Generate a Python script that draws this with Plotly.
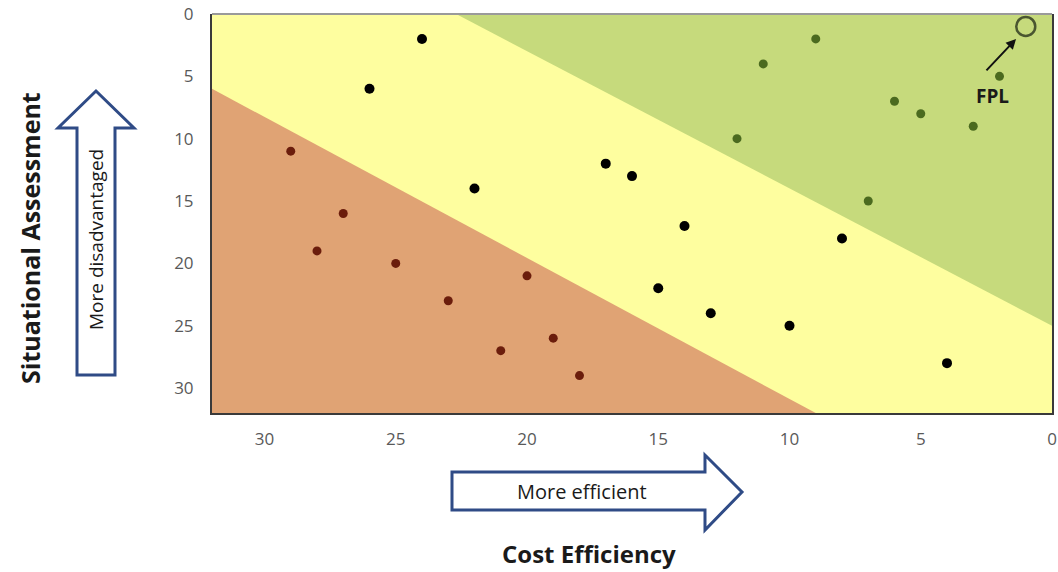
import plotly.graph_objects as go

# ---- data ----
black_x = [24, 26, 22, 17, 16, 14, 15, 13, 10, 8, 4]
black_y = [2, 6, 14, 12, 13, 17, 22, 24, 25, 18, 28]
brown_x = [29, 27, 28, 25, 20, 23, 19, 21, 18]
brown_y = [11, 16, 19, 20, 21, 23, 26, 27, 29]
green_x = [9, 11, 12, 6, 5, 3, 2, 7]
green_y = [2, 4, 10, 7, 8, 9, 5, 15]
fpl_x = [1]
fpl_y = [1]

# zone boundaries (data coordinates)
green_zone_x = [22.7, 0, 0]
green_zone_y = [0, 0, 25]
red_zone_x = [32, 32, 9]
red_zone_y = [6, 32, 32]

x_ticks = [0, 5, 10, 15, 20, 25, 30]
y_ticks = [0, 5, 10, 15, 20, 25, 30]

# ---- styling ----
W, H = 1058, 572
ML, MR, MT, MB = 212, 6, 14, 159
PW, PH = W - ML - MR, H - MT - MB
FONT = "'Open Sans', sans-serif"
YELLOW = "#fefe9f"
GREEN = "#c6da7c"
RED = "#e0a374"
BLUE = "#2f4b86"


def px(x):
    return (x - ML) / PW


def py(y):
    return (H - MB - y) / PH


def poly(points):
    d = "M " + " L ".join(f"{px(a):.5f},{py(b):.5f}" for a, b in points) + " Z"
    return d


fig = go.Figure()

fig.add_trace(go.Scatter(x=red_zone_x, y=red_zone_y, fill="toself", fillcolor=RED,
                         mode="lines", line=dict(width=0), hoverinfo="skip", showlegend=False))
fig.add_trace(go.Scatter(x=green_zone_x, y=green_zone_y, fill="toself", fillcolor=GREEN,
                         mode="lines", line=dict(width=0), hoverinfo="skip", showlegend=False))

fig.add_trace(go.Scatter(x=brown_x, y=brown_y, mode="markers",
                         marker=dict(size=9, color="#6b1d0c"), showlegend=False))
fig.add_trace(go.Scatter(x=green_x, y=green_y, mode="markers",
                         marker=dict(size=9, color="#4b6a1f"), showlegend=False))
fig.add_trace(go.Scatter(x=black_x, y=black_y, mode="markers",
                         marker=dict(size=10, color="#000000"), showlegend=False))
fig.add_trace(go.Scatter(x=fpl_x, y=fpl_y, mode="markers",
                         marker=dict(size=19, color="rgba(0,0,0,0)",
                                     line=dict(width=2.5, color="#4a5630")),
                         showlegend=False))

shapes = [
    # top border (lighter)
    dict(type="line", xref="paper", yref="paper", x0=0, x1=1, y0=1, y1=1,
         line=dict(color="#9a9a9a", width=2)),
    # up arrow
    dict(type="path", xref="paper", yref="paper",
         path=poly([(96, 91), (134, 128), (115, 128), (115, 375), (77, 375), (77, 128), (58, 128)]),
         fillcolor="white", line=dict(color=BLUE, width=3)),
    # right arrow
    dict(type="path", xref="paper", yref="paper",
         path=poly([(452, 472), (705, 472), (705, 455), (742, 492), (705, 530), (705, 510), (452, 510)]),
         fillcolor="white", line=dict(color=BLUE, width=3)),
]

C = dict(xanchor="center", yanchor="middle", showarrow=False)
annotations = [
    dict(text="More disadvantaged", xref="paper", yref="paper", x=px(96), y=py(239),
         textangle=-90, font=dict(family=FONT, size=19, color="#1a1a1a"), **C),
    dict(text="More efficient", xref="paper", yref="paper", x=px(582), y=py(491),
         font=dict(family=FONT, size=20, color="#1a1a1a"), **C),
    dict(text="<b>Cost Efficiency</b>", xref="paper", yref="paper", x=px(589), y=py(553),
         font=dict(family=FONT, size=24, color="#1a1a1a"), **C),
    dict(text="<b>Situational Assessment</b>", xref="paper", yref="paper", x=px(30), y=py(238),
         textangle=-90, font=dict(family=FONT, size=25, color="#1a1a1a"), **C),
    dict(text="<b>FPL</b>", xref="x", yref="y", x=2.25, y=6.6,
         font=dict(family=FONT, size=19, color="#1a1a1a"), **C),
    dict(text="", xref="x", yref="y", x=1.37, y=2.0, ax=-31, ay=33, showarrow=True,
         arrowhead=2, arrowsize=1, arrowwidth=2, arrowcolor="#111111"),
]

fig.update_layout(
    width=W, height=H, autosize=False,
    margin=dict(l=ML, r=MR, t=MT, b=MB, pad=0),
    paper_bgcolor="white", plot_bgcolor=YELLOW,
    font=dict(family=FONT, color="#595959", size=17),
    shapes=shapes, annotations=annotations, showlegend=False,
)
fig.update_xaxes(range=[32, 0], tickvals=x_ticks, showgrid=False, zeroline=False,
                 showline=True, linecolor="#3a3a3a", linewidth=2, mirror=False,
                 ticks="outside", ticklen=10, tickcolor="rgba(0,0,0,0)", automargin=False,
                 tickfont=dict(family=FONT, size=17, color="#595959"))
fig.update_yaxes(range=[32, 0], tickvals=y_ticks, showgrid=False, zeroline=False,
                 showline=True, linecolor="#3a3a3a", linewidth=2, mirror=True,
                 ticks="outside", ticklen=13, tickcolor="rgba(0,0,0,0)", automargin=False,
                 tickfont=dict(family=FONT, size=17, color="#595959"))

fig.write_html("out.html", config={"displayModeBar": False},
               post_script="document.body.style.margin='0';")
